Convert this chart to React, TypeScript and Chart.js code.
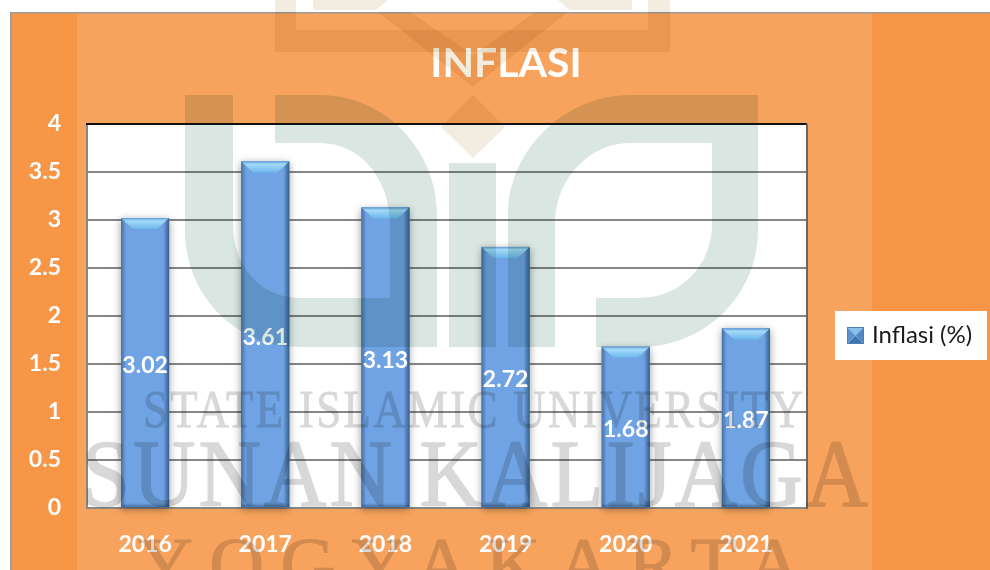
import React, { useEffect, useRef } from "react";
import { Chart, registerables } from "chart.js";

Chart.register(...registerables);

const years = ["2016", "2017", "2018", "2019", "2020", "2021"];
const inflasi = [3.02, 3.61, 3.13, 2.72, 1.68, 1.87];
const seriesName = "Inflasi (%)";
const chartTitle = "INFLASI";
const watermarkLines = [
  { text: "STATE ISLAMIC UNIVERSITY", x: 143, y: 427, w: 660, size: 52, stroke: 0.8, stretch: 0.86 },
  { text: "SUNAN KALIJAGA", x: 82, y: 506, w: 786, size: 96, stroke: 1.6, stretch: 0.9 },
  { text: "YOGYAKARTA", x: 138, y: 590, w: 664, size: 76, stroke: 1.2, stretch: 1 },
];
const FONT = "Lato, Carlito, 'Open Sans', sans-serif";
const target = { left: 85, top: 124, right: 806, bottom: 508 };
const plotLeft = 87;
const plotRight = 807;

function makeMarker() {
  const c = document.createElement("canvas");
  c.width = 17;
  c.height = 17;
  const g = c.getContext("2d") as CanvasRenderingContext2D;
  const tri = (pts: number[][], col: string) => {
    g.fillStyle = col;
    g.beginPath();
    pts.forEach((p, i) => (i ? g.lineTo(p[0], p[1]) : g.moveTo(p[0], p[1])));
    g.closePath();
    g.fill();
  };
  tri([[0, 0], [17, 0], [8.5, 8.5]], "#86C0EE");
  tri([[0, 17], [17, 17], [8.5, 8.5]], "#3F76B0");
  tri([[0, 0], [0, 17], [8.5, 8.5]], "#5C93CF");
  tri([[17, 0], [17, 17], [8.5, 8.5]], "#5488C0");
  g.strokeStyle = "#4A7FB8";
  g.strokeRect(0.5, 0.5, 16, 16);
  return c;
}

function makeWatermarkText() {
  const off = document.createElement("canvas");
  off.width = 990;
  off.height = 570;
  const g = off.getContext("2d") as any;
  g.fillStyle = "#FFFFFF";
  g.fillRect(0, 0, 990, 570);
  g.fillStyle = "#D8D8D8";
  g.strokeStyle = "#D8D8D8";
  g.textAlign = "left";
  g.textBaseline = "alphabetic";
  g.lineJoin = "round";
  watermarkLines.forEach((ln) => {
    g.save();
    g.font = `${ln.size}px 'Liberation Serif', serif`;
    g.letterSpacing = "0px";
    const w = g.measureText(ln.text).width * ln.stretch;
    g.letterSpacing = `${(ln.w - w) / ln.stretch / (ln.text.length - 1)}px`;
    g.translate(ln.x, ln.y);
    g.scale(ln.stretch, 1);
    g.lineWidth = ln.stroke;
    g.fillText(ln.text, 0, 0);
    g.strokeText(ln.text, 0, 0);
    g.restore();
  });
  return off;
}

const backdrop = {
  id: "backdrop",
  beforeDraw(chart: any) {
    const c = chart.ctx;
    c.save();
    c.fillStyle = "#FFFFFF";
    c.fillRect(0, 0, 990, 570);
    c.fillStyle = "#F79646";
    c.fillRect(10, 12, 980, 558);
    c.fillStyle = "#F8A35D";
    c.fillRect(77, 13, 795, 557);
    c.fillStyle = "#9A9A9A";
    c.fillRect(10, 12, 980, 1.5);
    c.fillRect(10, 12, 1.5, 558);
    const a = chart.chartArea;
    c.fillStyle = "#FFFFFF";
    c.fillRect(plotLeft, a.top, plotRight - plotLeft, a.bottom - a.top);
    c.fillRect(835, 311, 152, 49);
    c.restore();
  },
  afterLayout(chart: any) {
    const t = chart.titleBlock;
    if (t) {
      t.left = 306;
      t.right = 706;
      t.top = 39;
    }
    const l = chart.legend;
    if (l) {
      const w = l.width;
      const h = l.height;
      l.left = 847;
      l.right = 847 + w;
      l.top = 335.5 - h / 2;
      l.bottom = 335.5 + h / 2;
    }
  },
};

const bevel = {
  id: "bevel",
  beforeDatasetsDraw(chart: any) {
    const c = chart.ctx;
    const a = chart.chartArea;
    const meta = chart.getDatasetMeta(0);
    c.save();
    // the grid stops at the visible plot edge, which lies just inside the scale
    c.fillStyle = "#F8A35D";
    c.fillRect(a.left - 1, a.top - 2, plotLeft - a.left + 0.5, a.bottom - a.top + 5);
    c.fillStyle = "#868686";
    c.fillRect(plotLeft - 1, a.top, 2, a.bottom - a.top + 1);
    c.shadowColor = "rgba(0,0,0,0.4)";
    c.shadowBlur = 8;
    c.shadowOffsetY = 2;
    c.fillStyle = "#5C8FCC";
    meta.data.forEach((b: any) => {
      c.fillRect(b.x - b.width / 2, b.y, b.width, b.base - b.y);
    });
    c.restore();
  },
  afterDatasetsDraw(chart: any) {
    const c = chart.ctx;
    const meta = chart.getDatasetMeta(0);
    const values = chart.data.datasets[0].data;
    c.save();
    meta.data.forEach((b: any, i: number) => {
      const l = b.x - b.width / 2;
      const r = b.x + b.width / 2;
      const t = b.y;
      const bt = b.base;
      const gl = c.createLinearGradient(l, 0, l + 5, 0);
      gl.addColorStop(0, "rgba(40,80,130,0.6)");
      gl.addColorStop(1, "rgba(40,80,130,0)");
      c.fillStyle = gl;
      c.fillRect(l, t, 5, bt - t);
      const gr = c.createLinearGradient(r - 6, 0, r, 0);
      gr.addColorStop(0, "rgba(30,65,110,0)");
      gr.addColorStop(1, "rgba(30,65,110,0.7)");
      c.fillStyle = gr;
      c.fillRect(r - 6, t, 6, bt - t);
      const gb = c.createLinearGradient(0, bt - 4, 0, bt);
      gb.addColorStop(0, "rgba(30,65,110,0)");
      gb.addColorStop(1, "rgba(30,65,110,0.5)");
      c.fillStyle = gb;
      c.fillRect(l, bt - 4, r - l, 4);
      const gt = c.createLinearGradient(0, t, 0, t + 11);
      gt.addColorStop(0, "#5E9CD8");
      gt.addColorStop(0.25, "#A4DAF8");
      gt.addColorStop(1, "#6DB6EC");
      c.fillStyle = gt;
      c.beginPath();
      c.moveTo(l, t);
      c.lineTo(r, t);
      c.lineTo(r - 12, t + 11);
      c.lineTo(l + 12, t + 11);
      c.closePath();
      c.fill();
      c.fillStyle = "#FFFFFF";
      c.font = `bold 23px ${FONT}`;
      c.textAlign = "center";
      c.textBaseline = "middle";
      c.fillText(String(values[i]), b.x, (t + bt) / 2 + 3);
    });
    c.restore();
  },
};

const overlay = {
  id: "overlay",
  afterDraw(chart: any) {
    const c = chart.ctx;
    const a = chart.chartArea;
    c.save();
    c.fillStyle = "#111111";
    c.fillRect(plotLeft - 1, a.top - 1, plotRight - plotLeft + 1, 2);
    c.fillStyle = "#666666";
    c.fillRect(plotRight - 1, a.top, 2, a.bottom - a.top + 1);
    c.globalCompositeOperation = "multiply";

    c.fillStyle = "#DAE6E1";
    const p1 = new Path2D(
      "M275 95 L320 95 C385 95 437 150 437 215 L437 347 L300 347 C235 347 185 295 185 230 L185 95 L233 95 L233 225 C233 265 260 298 300 298 L390 298 L390 225 C390 178 360 143 320 143 L275 143 Z"
    );
    const p2 = new Path2D(
      "M758 95 L630 95 C565 95 508 150 508 215 L508 347 L555 347 L555 225 C555 178 590 143 630 143 L712 143 L712 225 C712 265 680 298 640 298 L596 298 L596 347 L640 347 C705 347 758 295 758 230 Z"
    );
    c.fill(p1);
    c.fill(p2);
    c.fillRect(449, 163, 47, 184);

    c.fillStyle = "#F2EDE0";
    const top = new Path2D(
      "M275 0 L670 0 L670 52 L275 52 Z M296 0 L296 30 L648 30 L648 0 Z"
    );
    c.fill(top, "evenodd");
    c.fill(new Path2D("M378 12 L473 87 L568 12 L536 12 L473 55 L410 12 Z"));
    c.fill(new Path2D("M473 95 L505 127 L473 158 L441 127 Z"));
    c.fill(new Path2D("M313 0 L388 0 L376 10 L313 10 Z M558 0 L632 0 L632 10 L570 10 Z"));

    c.drawImage(makeWatermarkText(), 0, 0);
    c.restore();
  },
};

export default function App() {
  const ref = useRef<HTMLCanvasElement | null>(null);
  useEffect(() => {
    const chart: any = new Chart(ref.current as HTMLCanvasElement, {
      type: "bar",
      data: {
        labels: years,
        datasets: [
          {
            label: seriesName,
            data: inflasi,
            backgroundColor: "#6FA3E3",
            barPercentage: 0.4,
            categoryPercentage: 1,
          },
        ],
      },
      plugins: [backdrop, bevel, overlay],
      options: {
        responsive: false,
        animation: false,
        layout: { padding: { left: 0, top: 0, right: 0, bottom: 0 } },
        scales: {
          x: {
            grid: { display: false },
            border: { color: "#868686", width: 2 },
            ticks: {
              color: "#FFFFFF",
              padding: 15,
              maxRotation: 0,
              font: { family: FONT, size: 23, weight: "bold" },
            },
          },
          y: {
            min: 0,
            max: 4,
            ticks: {
              stepSize: 0.5,
              color: "#FFFFFF",
              padding: 24,
              font: { family: FONT, size: 23, weight: "bold" },
              callback: (v: any) => String(v),
            },
            grid: { color: "#868686", lineWidth: 2, drawTicks: false },
            border: { display: false },
          },
        },
        plugins: {
          title: {
            display: true,
            text: chartTitle,
            color: "#FFFFFF",
            font: { family: FONT, size: 41, weight: "bold" },
            padding: 0,
          },
          legend: {
            position: "right",
            labels: {
              usePointStyle: true,
              pointStyle: makeMarker(),
              pointStyleWidth: 9,
              color: "#1A1A1A",
              padding: 4,
              font: { family: FONT, size: 24 },
            },
          },
          tooltip: { enabled: false },
        },
      },
    });
    for (let i = 0; i < 3; i++) {
      const a = chart.chartArea;
      const p = chart.options.layout.padding;
      const cur = { left: p.left, top: p.top, right: p.right, bottom: p.bottom };
      chart.options.layout.padding = {
        left: cur.left + (target.left - a.left),
        top: cur.top + (target.top - a.top),
        right: cur.right + (a.right - target.right),
        bottom: cur.bottom + (a.bottom - target.bottom),
      };
      chart.update();
    }
    return () => chart.destroy();
  }, []);
  return (
    <div style={{ position: "absolute", left: 0, top: 0, width: 990, height: 570 }}>
      <canvas ref={ref} width={990} height={570} style={{ display: "block" }} />
    </div>
  );
}
